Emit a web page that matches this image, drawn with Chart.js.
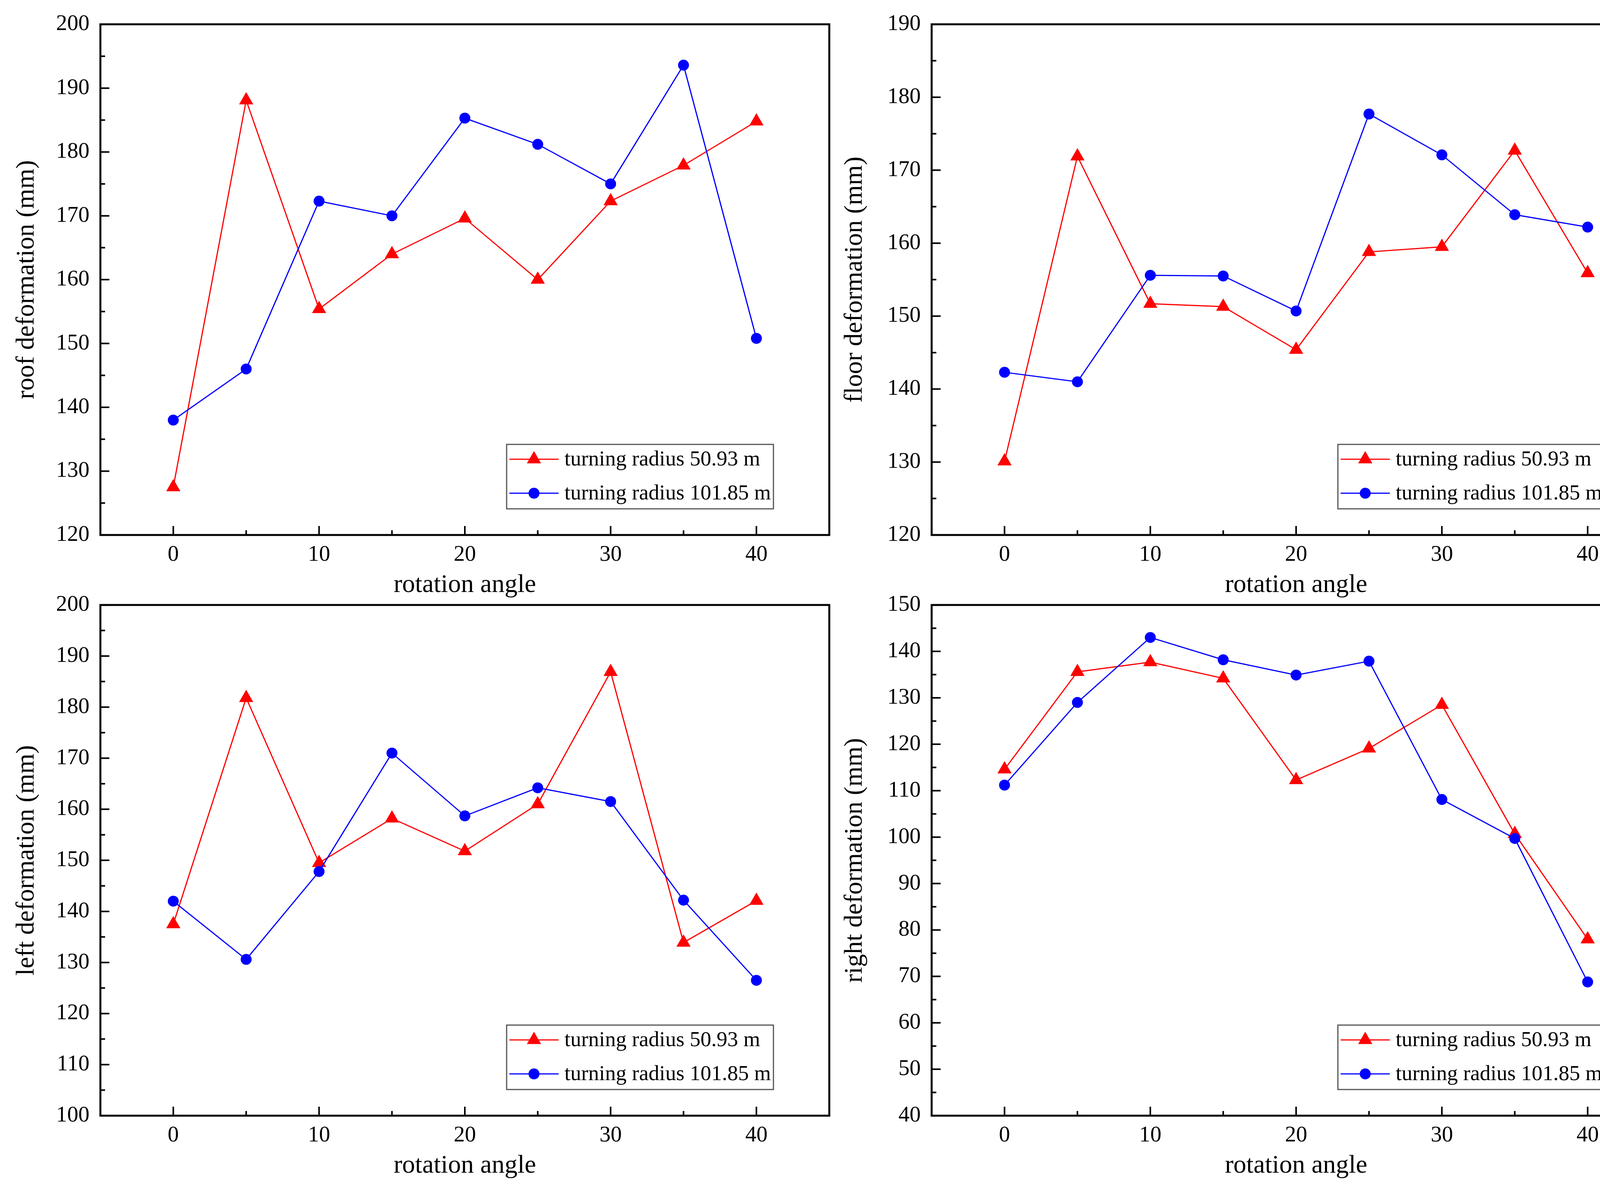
<!DOCTYPE html>
<html>
<head>
<meta charset="utf-8">
<script src="https://cdn.jsdelivr.net/npm/chart.js@4.4.0/dist/chart.umd.min.js"></script>
<style>
  html, body { margin: 0; padding: 0; background: #fff; }
  body { width: 4288px; height: 3055px; position: relative; overflow: hidden; }
  canvas { position: absolute; }
</style>
</head>
<body>
<canvas id="roof" width="2144" height="1560" style="left:0px;top:0px;width:2144px;height:1560px"></canvas>
<canvas id="floor" width="2144" height="1560" style="left:2128px;top:0px;width:2144px;height:1560px"></canvas>
<canvas id="left" width="2144" height="1560" style="left:0px;top:1487px;width:2144px;height:1560px"></canvas>
<canvas id="right" width="2144" height="1560" style="left:2128px;top:1487px;width:2144px;height:1560px"></canvas>
<script>
// rotation angle of the roadway (x axis)
let angles = [0, 5, 10, 15, 20, 25, 30, 35, 40];
let xTicks = [0, 10, 20, 30, 40];

let seriesNames = ['turning radius 50.93 m', 'turning radius 101.85 m'];

// deformation in mm
let roofR50  = [127.5, 188.1, 155.4, 164.0, 169.6, 160.0, 172.3, 177.9, 184.8];
let roofR101 = [138.0, 146.0, 172.3, 170.0, 185.3, 181.2, 175.0, 193.6, 150.8];

let floorR50  = [130.1, 171.9, 151.7, 151.3, 145.4, 158.8, 159.5, 172.7, 155.9];
let floorR101 = [142.3, 141.0, 155.6, 155.5, 150.7, 177.7, 172.1, 163.9, 162.2];

let leftR50  = [137.5, 181.8, 149.5, 158.2, 151.8, 161.0, 186.9, 133.9, 142.1];
let leftR101 = [142.0, 130.6, 147.8, 171.0, 158.7, 164.2, 161.5, 142.2, 126.5];

let rightR50  = [114.6, 135.6, 137.7, 134.2, 112.3, 119.1, 128.5, 100.7, 78.0];
let rightR101 = [111.2, 129.0, 143.0, 138.2, 134.9, 137.9, 108.1, 99.7, 68.8];

// y tick labels per panel
let roofTicks  = [120, 130, 140, 150, 160, 170, 180, 190, 200];
let floorTicks = [120, 130, 140, 150, 160, 170, 180, 190];
let leftTicks  = [100, 110, 120, 130, 140, 150, 160, 170, 180, 190, 200];
let rightTicks = [40, 50, 60, 70, 80, 90, 100, 110, 120, 130, 140, 150];

const serif = '"Liberation Serif", "Times New Roman", serif';
Chart.defaults.color = '#000';
Chart.defaults.font.family = serif;

function points(vals) {
  return angles.map((a, i) => ({ x: a, y: vals[i] }));
}

function midpoints(t) {
  let out = [];
  for (let i = 0; i < t.length - 1; i++) out.push((t[i] + t[i + 1]) / 2);
  return out;
}

function marker(ctx, style, x, y, r, color) {
  ctx.fillStyle = color;
  ctx.beginPath();
  if (style === 'triangle') {
    ctx.moveTo(x, y - r);
    ctx.lineTo(x + r * 0.866, y + r / 2);
    ctx.lineTo(x - r * 0.866, y + r / 2);
    ctx.closePath();
  } else {
    ctx.arc(x, y, r, 0, Math.PI * 2);
  }
  ctx.fill();
}

// Origin-like box, inward ticks and the legend inside the plot
let framePlugin = {
  id: 'frame',
  afterDraw(chart, args, opts) {
    let { ctx, chartArea: a, scales: { x, y } } = chart;
    ctx.save();
    ctx.strokeStyle = '#000';
    ctx.lineWidth = 4;
    ctx.beginPath();
    opts.yTicks.forEach(v => {
      let py = y.getPixelForValue(v);
      ctx.moveTo(a.left, py); ctx.lineTo(a.left + 23, py);
    });
    midpoints(opts.yTicks).forEach(v => {
      let py = y.getPixelForValue(v);
      ctx.moveTo(a.left, py); ctx.lineTo(a.left + 12, py);
    });
    xTicks.forEach(v => {
      let px = x.getPixelForValue(v);
      ctx.moveTo(px, a.bottom); ctx.lineTo(px, a.bottom - 23);
    });
    midpoints(xTicks).forEach(v => {
      let px = x.getPixelForValue(v);
      ctx.moveTo(px, a.bottom); ctx.lineTo(px, a.bottom - 12);
    });
    ctx.stroke();

    ctx.lineWidth = 5;
    ctx.strokeRect(a.left, a.top, a.right - a.left, a.bottom - a.top);

    // legend
    let w = 683, h = 165;
    let bx = a.right - 143 - w, by = a.bottom - 67 - h;
    ctx.fillStyle = '#fff';
    ctx.fillRect(bx, by, w, h);
    ctx.strokeStyle = '#555';
    ctx.lineWidth = 3;
    ctx.strokeRect(bx, by, w, h);
    chart.data.datasets.forEach((ds, i) => {
      let cy = by + 38 + i * 87;
      ctx.strokeStyle = ds.borderColor;
      ctx.lineWidth = 3;
      ctx.beginPath();
      ctx.moveTo(bx + 7, cy);
      ctx.lineTo(bx + 133, cy);
      ctx.stroke();
      marker(ctx, ds.pointStyle, bx + 70, cy, ds.pointRadius, ds.backgroundColor);
      ctx.fillStyle = '#000';
      ctx.font = '55px ' + serif;
      ctx.textAlign = 'left';
      ctx.textBaseline = 'middle';
      ctx.fillText(ds.label, bx + 148, cy + 2);
    });
    ctx.restore();
  }
};

function makeChart(id, yTitle, r50, r101, yTicks, titlePad) {
  let ctx = document.getElementById(id).getContext('2d');
  return new Chart(ctx, {
    type: 'line',
    data: {
      datasets: [{
        label: seriesNames[0],
        data: points(r50),
        borderColor: '#ff0000',
        backgroundColor: '#ff0000',
        borderWidth: 3,
        pointStyle: 'triangle',
        pointRadius: 21,
        pointBorderWidth: 0,
        tension: 0,
        order: 2
      }, {
        label: seriesNames[1],
        data: points(r101),
        borderColor: '#0000ff',
        backgroundColor: '#0000ff',
        borderWidth: 3,
        pointStyle: 'circle',
        pointRadius: 14,
        pointBorderWidth: 0,
        tension: 0,
        order: 1
      }]
    },
    options: {
      responsive: false,
      animation: false,
      devicePixelRatio: 1,
      layout: { padding: { top: 60, right: 14, left: 0, bottom: 0 } },
      plugins: {
        legend: { display: false },
        tooltip: { enabled: false },
        frame: { yTicks: yTicks }
      },
      scales: {
        x: {
          type: 'linear',
          min: -5,
          max: 45,
          afterBuildTicks: s => { s.ticks = xTicks.map(v => ({ value: v })); },
          afterFit: s => { s.height = 190; },
          grid: { display: false, drawTicks: false },
          border: { display: false },
          ticks: { font: { size: 57 }, padding: 17, maxRotation: 0, autoSkip: false },
          title: { display: true, text: 'rotation angle', font: { size: 66 }, padding: { top: 0, bottom: 22 } }
        },
        y: {
          type: 'linear',
          min: yTicks[0],
          max: yTicks[yTicks.length - 1],
          afterBuildTicks: s => { s.ticks = yTicks.map(v => ({ value: v })); },
          afterFit: s => { s.width = 257; },
          grid: { display: false, drawTicks: false },
          border: { display: false },
          ticks: { font: { size: 57 }, padding: 28, autoSkip: false },
          title: { display: true, text: yTitle, font: { size: 66 }, padding: { top: titlePad, bottom: 0 } }
        }
      }
    },
    plugins: [framePlugin]
  });
}

makeChart('roof', 'roof deformation (mm)', roofR50, roofR101, roofTicks, 29);
makeChart('floor', 'floor deformation (mm)', floorR50, floorR101, floorTicks, 21);
makeChart('left', 'left deformation (mm)', leftR50, leftR101, leftTicks, 29);
makeChart('right', 'right deformation (mm)', rightR50, rightR101, rightTicks, 21);
</script>
</body>
</html>
